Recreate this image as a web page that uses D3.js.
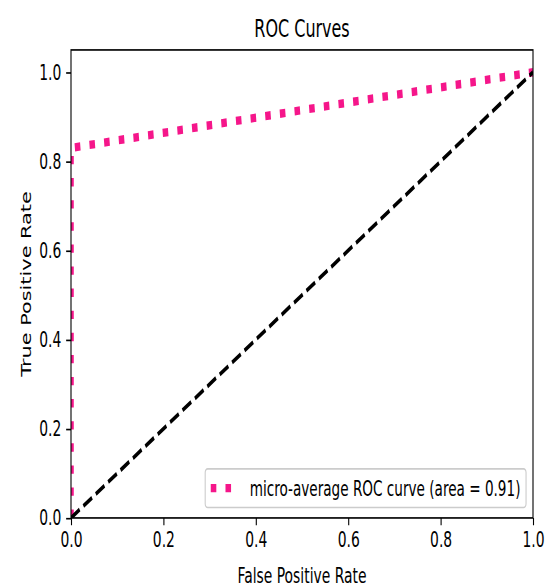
<!DOCTYPE html>
<html>
<head>
<meta charset="utf-8">
<script src="https://cdn.jsdelivr.net/npm/d3@7"></script>
<style>
  html, body { margin: 0; padding: 0; background: #fff; }
  text { font-family: "DejaVu Sans", sans-serif; fill: #000; }
</style>
</head>
<body>
<svg id="chart" width="550" height="588"></svg>
<script>
// ---- data ----
const fpr = [0.0, 0.0, 1.0];
const tpr = [0.0, 0.83, 1.0];
const chanceX = [0.0, 1.0];
const chanceY = [0.0, 1.0];
const xTicks = [0.0, 0.2, 0.4, 0.6, 0.8, 1.0];
const yTicks = [0.0, 0.2, 0.4, 0.6, 0.8, 1.0];
const titleText = "ROC Curves";
const xLabel = "False Positive Rate";
const yLabel = "True Positive Rate";
const legendLabel = "micro-average ROC curve (area = 0.91)";

(function () {
// ---- layout (figure is stretched vertically) ----
const SY = 1.5;
const pL = 71, pR = 533, pT = 33.3, pB = 345.3;
const fs = 13.9;

const svg = d3.select("#chart");
const g = svg.append("g").attr("transform", `scale(1,${SY})`);

const x = d3.scaleLinear().domain([0, 1]).range([pL, pR]);
const y = d3.scaleLinear().domain([0, 1.05]).range([pB, pT]);

g.append("defs").append("clipPath").attr("id", "clip")
  .append("rect").attr("x", pL).attr("y", pT)
  .attr("width", pR - pL).attr("height", pB - pT);

const plot = g.append("g").attr("clip-path", "url(#clip)");

const line = d3.line().x(d => x(d[0])).y(d => y(d[1]));

// ROC curve (deeppink dotted)
const lw = 5.56;
const pink = "#f5168a";
plot.append("path")
  .datum(fpr.map((v, i) => [v, tpr[i]]))
  .attr("d", line)
  .attr("fill", "none")
  .attr("stroke", pink)
  .attr("stroke-width", lw)
  .attr("stroke-dasharray", `${lw * 1.0},${lw * 1.65}`);

// chance line (black dashed)
const lw2 = 2.78;
plot.append("path")
  .datum(chanceX.map((v, i) => [v, chanceY[i]]))
  .attr("d", line)
  .attr("fill", "none")
  .attr("stroke", "#000")
  .attr("stroke-width", lw2)
  .attr("stroke-dasharray", `${lw2 * 3.7},${lw2 * 1.6}`);

// axes
const tick = 4.86, pad = 4.86;
const xAxis = g.append("g").attr("transform", `translate(0,${pB})`)
  .call(d3.axisBottom(x).tickValues(xTicks).tickFormat(d3.format(".1f"))
        .tickSize(tick).tickPadding(pad).tickSizeOuter(0));
const yAxis = g.append("g").attr("transform", `translate(${pL},0)`)
  .call(d3.axisLeft(y).tickValues(yTicks).tickFormat(d3.format(".1f"))
        .tickSize(tick).tickPadding(pad).tickSizeOuter(0));
[xAxis, yAxis].forEach(a => {
  a.select(".domain").remove();
  a.selectAll("line").attr("stroke", "#000").attr("stroke-width", 1.1);
  a.selectAll("text").attr("font-size", fs).attr("font-family", "DejaVu Sans, sans-serif").attr("fill", "#000");
});

// spines
g.append("rect").attr("x", pL).attr("y", pT)
  .attr("width", pR - pL).attr("height", pB - pT)
  .attr("fill", "none").attr("stroke", "#000").attr("stroke-width", 1.1);

// title & labels
g.append("text").attr("x", (pL + pR) / 2).attr("y", 25)
  .attr("text-anchor", "middle").attr("font-size", 16).text(titleText);
g.append("text").attr("x", (pL + pR) / 2).attr("y", 388.5)
  .attr("text-anchor", "middle").attr("font-size", fs).text(xLabel);
g.append("text")
  .attr("transform", `translate(31,${(pT + pB) / 2}) rotate(-90)`)
  .attr("text-anchor", "middle").attr("font-size", fs).text(yLabel);

// legend (lower right)
const lfs = 13.6;
const lg = g.append("g");
const ltext = lg.append("text").attr("font-size", lfs).text(legendLabel);
const tw = ltext.node().getComputedTextLength();
const bpad = 0.4 * fs, hlen = 2.0 * fs, htp = 0.8 * fs, axpad = 0.5 * fs;
const boxW = bpad + hlen + htp + tw + bpad;
const boxH = 25.8;
const boxR = pR - axpad, boxB = pB - axpad;
const boxL = boxR - boxW, boxT = boxB - boxH;
lg.insert("rect", "text").attr("x", boxL).attr("y", boxT)
  .attr("width", boxW).attr("height", boxH).attr("rx", 2.5)
  .attr("fill", "#fff").attr("fill-opacity", 0.8)
  .attr("stroke", "#cccccc").attr("stroke-width", 1.1);
const cy = boxT + boxH / 2;
lg.insert("line", "text").attr("x1", boxL + bpad).attr("x2", boxL + bpad + hlen)
  .attr("y1", cy).attr("y2", cy)
  .attr("stroke", pink).attr("stroke-width", lw)
  .attr("stroke-dasharray", `${lw * 1.0},${lw * 1.65}`);
ltext.attr("x", boxL + bpad + hlen + htp).attr("y", cy).attr("dy", "0.36em");
})();
</script>
</body>
</html>
